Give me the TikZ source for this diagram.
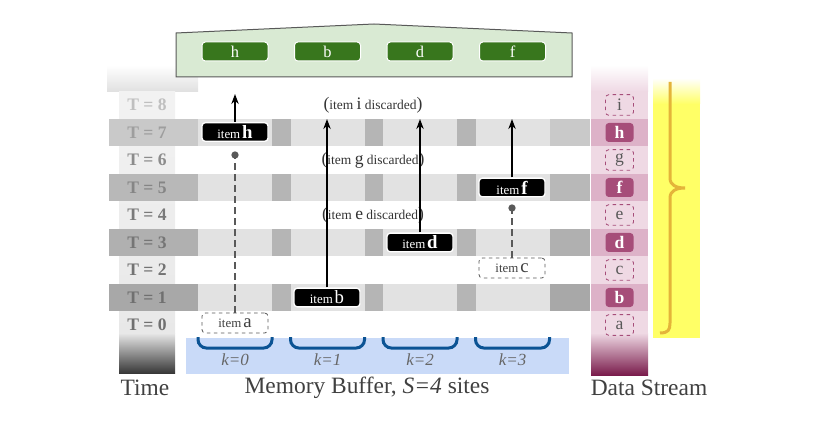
\documentclass[tikz,border=0pt]{standalone}
\usepackage{fontspec}
\setmainfont{Liberation Serif}
\usetikzlibrary{arrows.meta}

\definecolor{boxgreen}{HTML}{D9EAD3}
\definecolor{btngreen}{HTML}{38761D}
\definecolor{cellgray}{HTML}{E2E2E2}
\definecolor{gapgray}{HTML}{B5B5B5}
\definecolor{pinkL}{HTML}{EFD9E4}
\definecolor{pinkD}{HTML}{DDB2C8}
\definecolor{streammag}{HTML}{A64D79}
\definecolor{streamend}{HTML}{7A1C4C}
\definecolor{yellowbar}{HTML}{FFFF66}
\definecolor{bracecol}{HTML}{E4B43A}
\definecolor{bufblue}{HTML}{C9DAF8}
\definecolor{bracketblue}{HTML}{0B5394}
\definecolor{lblgray}{HTML}{404040}

\newcommand{\itm}[1]{{\fontsize{11}{11}\selectfont item}\,{\fontsize{16}{16}\selectfont #1}}
\newcommand{\dropped}[1]{{\fontsize{15}{15}\selectfont(}item {\fontsize{15}{15}\selectfont #1} discarded{\fontsize{15}{15}\selectfont)}}

\tikzset{
	timelbl/.style={font=\fontsize{15}{15}\selectfont\bfseries},
	outbtn/.style={draw=white, line width=0.3mm, fill=btngreen, text=white, rounded corners=1mm, minimum width=1.98cm, minimum height=0.57cm, inner sep=0pt, font=\fontsize{14}{14}\selectfont},
	itemon/.style={draw=white, line width=0.4mm, fill=black, text=white, rounded corners=1mm, minimum width=1.98cm, minimum height=0.56cm, inner sep=0pt},
	itemoff/.style={draw=black!65, dashed, line width=0.25mm, fill=white, text=black!75, rounded corners=1mm, minimum width=1.98cm, minimum height=0.6cm, inner sep=0pt},
	droplbl/.style={text=black!80, font=\fontsize{11.5}{12}\selectfont, inner sep=0pt},
	streamon/.style={fill=streammag, text=white, rounded corners=1mm, minimum width=0.84cm, minimum height=0.57cm, inner sep=0pt, font=\fontsize{15}{15}\selectfont\bfseries},
	streamoff/.style={draw=streammag, dashed, line width=0.25mm, fill=pinkL, text=black!65, rounded corners=1mm, minimum width=0.84cm, minimum height=0.62cm, inner sep=0pt, font=\fontsize{15}{15}\selectfont},
	flow/.style={line width=0.6mm, -{Stealth[length=3mm, width=2.2mm]}},
	dashflow/.style={black!65, line width=0.5mm, dash pattern=on 2mm off 1.3mm},
	bracket/.style={bracketblue, line width=0.9mm, rounded corners=2.5mm},
	klbl/.style={text=black!60, font=\fontsize{14.5}{15}\selectfont\itshape},
	footlbl/.style={text=lblgray, font=\fontsize{20}{20}\selectfont},
}

\begin{document}
\begin{tikzpicture}[x=0.03cm, y=-0.03cm]
	%%%%% START %%%%%
	\useasboundingbox (0,0) rectangle (816,432);
	
	% time column
	\shade[top color=white, bottom color=black!12] (107,65) rectangle (198,91.5);
	\shade[top color=black!5, bottom color=black!9] (119,91.5) rectangle (175,333);
	\shade[top color=black!9, bottom color=black!78] (119,333) rectangle (175,373);
	
	% stream column
	\shade[top color=white, bottom color=pinkL] (591,65) rectangle (648,91.5);
	\fill[pinkL] (591,91.5) rectangle (648,333);
	\shade[top color=pinkL, bottom color=streamend] (591,333) rectangle (648,375);
	
	% odd rows
	\foreach \i/\bc in {1/34,3/31,5/28,7/21} {
		\pgfmathsetmacro\yy{325-27.5*\i}
		\fill[black!\bc] (109,\yy-13.5) rectangle (590,\yy+13.5);
		\fill[pinkD] (591,\yy-13.5) rectangle (648,\yy+13.5);
		\foreach \xx in {198,290.5,383,475.5}
			\fill[cellgray] (\xx,\yy-13.5) rectangle ++(74,27);
		\foreach \xx in {272,364.5,457}
			\fill[gapgray] (\xx,\yy-13.5) rectangle ++(18.5,27);
	}
	
	% time labels
	\foreach \i/\tc in {0/56,1/56,2/55,3/54,4/52,5/48,6/45,7/38,8/25}
		\node[timelbl, text=black!\tc] (t\i) at (147,{325-27.5*\i}) {T = \i};
	
	% output box
	\draw[draw=black!65, fill=boxgreen, line width=0.3mm] (176,33) -- (374,24) -- (572,33) -- (572,77) -- (176,77) -- cycle;
	\foreach \l [count=\k from 0] in {h,b,d,f}
		\node[outbtn] (o\k) at ({235+92.5*\k},51.5) {\l};
	
	% data stream
	\shade[top color=white, bottom color=yellowbar] (653,78) rectangle (700,104);
	\fill[yellowbar] (653,104) rectangle (700,338);
	\draw[bracecol, line width=0.9mm] (670,82) -- (670,178) .. controls (670,185) and (676,188) .. (685,188)
		.. controls (676,188) and (670,191) .. (670,198) -- (670,323) .. controls (670,330) and (668,333) .. (660,333);
	\foreach \i/\l in {0/a,2/c,4/e,6/g,8/i}
		\node[streamoff] (s\i) at (619.5,{325-27.5*\i}) {\l};
	\foreach \i/\l in {1/b,3/d,5/f,7/h}
		\node[streamon] (s\i) at (619.5,{325-27.5*\i}) {\l};
	
	% memory buffer
	\fill[bufblue] (186,338) rectangle (569,374);
	\foreach \k in {0,...,3} {
		\draw[bracket] ({198+92.5*\k},337) -- ++(0,11) -- ++(74,0) -- ++(0,-11);
		\node[klbl] (k\k) at ({235+92.5*\k},360) {k=\k};
	}
	
	% items
	\node[itemon] (ih) at (235,132) {\itm{\bfseries h}};
	\node[itemon] (ib) at (327,297.5) {\itm{b}};
	\node[itemon] (id) at (420,242.5) {\itm{\bfseries d}};
	\node[itemon] (if) at (512,187.5) {\itm{\bfseries f}};
	\node[itemoff] (ia) at (235,323) {\itm{a}};
	\node[itemoff] (ic) at (512,268) {\itm{c}};
	
	\node[droplbl] (di) at (373,105) {\dropped{i}};
	\node[droplbl] (dg) at (373,160) {\dropped{g}};
	\node[droplbl] (de) at (373,215) {\dropped{e}};
	
	% connectors
	\coordinate (tip0) at (235,94);
	\coordinate (tip1) at (327,119);
	\coordinate (tip2) at (420,119);
	\coordinate (tip3) at (512,119);
	\coordinate (pin0) at (235,155);
	\coordinate (pin3) at (512,208);
	
	\draw[flow] (ih.north) -- (tip0);
	\draw[flow] (ib.north) -- (tip1);
	\draw[flow] (id.north) -- (tip2);
	\draw[flow] (if.north) -- (tip3);
	\draw[dashflow] (ia.north) -- (pin0);
	\draw[dashflow] (ic.north) -- (pin3);
	\fill[black!65] (pin0) circle (1.1mm);
	\fill[black!65] (pin3) circle (1.1mm);
	
	% footer
	\node[footlbl] (ftime) at (145,388) {Time};
	\node[footlbl] (fbuf) at (367,388) {Memory Buffer, \textit{S=4} sites};
	\node[footlbl] (fstream) at (649,388) {Data Stream};
	
	%%%%% END %%%%%
\end{tikzpicture}
\end{document}
